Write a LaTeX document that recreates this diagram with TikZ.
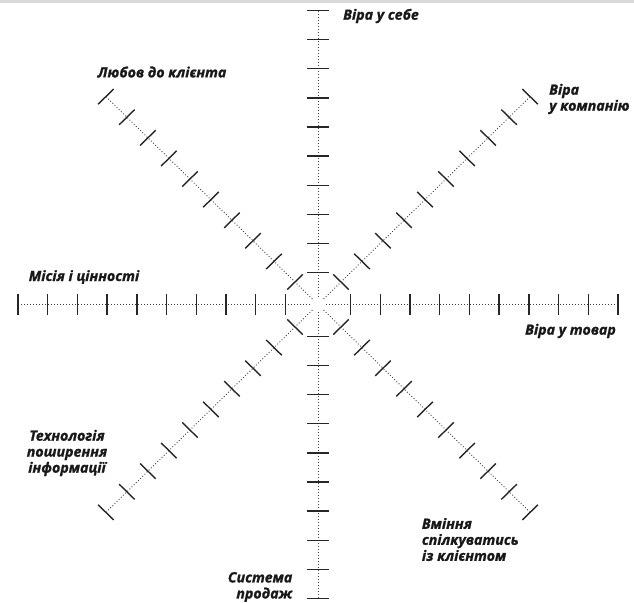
\documentclass[tikz,border=0pt]{standalone}
\usepackage{fontspec}
\setsansfont{Open Sans}[BoldItalicFeatures={FakeBold=1.2}]
\begin{document}
\begin{tikzpicture}[x=1pt, y=1pt,
  axis/.style={line width=0.9pt, black!75, dash pattern=on 0.9pt off 2.1pt},
  tick/.style={line width=1.4pt, black!85},
  lbl/.style={inner sep=0pt, font=\sffamily\bfseries\itshape\fontsize{14.2}{16}\selectfont, text=black!90, align=#1},
  lbl/.default=center]

\useasboundingbox (-318,-297.5) rectangle (316,304.5);
\fill[gray!30] (-318,301.5) rectangle (316,304.5);

\coordinate (O) at (0,0);

% axes with ticks
\begin{scope}[yscale=0.98]
\foreach \a in {0,45,...,315}{
  \coordinate (s\a) at (\a:8);
  \coordinate (e\a) at (\a:300);
  \draw[axis] (s\a) -- (e\a);
  \begin{scope}[rotate=\a]
  \foreach \k in {0,...,9}{
    \pgfmathsetmacro{\r}{32.5+29.72*\k}
    \draw[tick] (\r,-11) -- (\r,11);
  }
  \end{scope}
}
\end{scope}

% labels
\node [lbl, anchor=west] (VS) at (25,288.5) {Віра у себе};
\node [lbl] (LK) at (-156,232.5) {Любов до клієнта};
\node [lbl=left, anchor=west] (VK) at (231,205.5) {Віра\\у компанію};
\node [lbl] (MC) at (-234,27.5) {Місія і цінності};
\node [lbl] (VT) at (252.5,-26.5) {Віра у товар};
\node [lbl] (TP) at (-251,-148.5) {Технологія\\поширення\\інформації};
\node [lbl=left, anchor=west] (VSK) at (103.7,-235) {Вміння\\спілкуватись\\із клієнтом};
\node [lbl=right, anchor=east] (SP) at (-25.5,-282.5) {Система\\продаж};

\end{tikzpicture}
\end{document}
